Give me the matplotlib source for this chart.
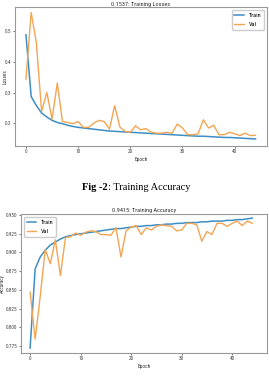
import numpy as np
import matplotlib.pyplot as plt

plt.rcParams['font.family'] = ['Liberation Sans Narrow', 'Roboto Condensed', 'DejaVu Sans']

# values
epochs = list(range(45))

train_loss = [0.489, 0.287, 0.257, 0.233, 0.220, 0.209, 0.202, 0.198, 0.193, 0.189,
              0.186, 0.184, 0.182, 0.180, 0.178, 0.176, 0.174, 0.173, 0.172, 0.171,
              0.170, 0.169, 0.168, 0.167, 0.166, 0.165, 0.164, 0.163, 0.162, 0.161,
              0.160, 0.159, 0.158, 0.157, 0.157, 0.156, 0.155, 0.154, 0.153, 0.153,
              0.152, 0.151, 0.150, 0.149, 0.148]
val_loss = [0.344, 0.562, 0.462, 0.238, 0.300, 0.213, 0.331, 0.205, 0.202, 0.198,
            0.205, 0.186, 0.186, 0.200, 0.209, 0.205, 0.180, 0.257, 0.187, 0.173,
            0.170, 0.191, 0.178, 0.182, 0.170, 0.167, 0.167, 0.170, 0.167, 0.197,
            0.184, 0.162, 0.162, 0.165, 0.211, 0.184, 0.193, 0.162, 0.162, 0.170,
            0.165, 0.159, 0.167, 0.159, 0.160]

train_acc = [0.772, 0.878, 0.894, 0.903, 0.910, 0.914, 0.918, 0.921, 0.9225, 0.924,
             0.925, 0.926, 0.927, 0.928, 0.929, 0.930, 0.931, 0.932, 0.932, 0.933,
             0.934, 0.935, 0.935, 0.936, 0.936, 0.937, 0.937, 0.938, 0.938, 0.939,
             0.939, 0.940, 0.940, 0.940, 0.941, 0.941, 0.942, 0.942, 0.942, 0.943,
             0.943, 0.944, 0.944, 0.945, 0.946]
val_acc = [0.847, 0.784, 0.841, 0.904, 0.885, 0.917, 0.869, 0.920, 0.921, 0.926,
           0.923, 0.927, 0.929, 0.928, 0.924, 0.924, 0.923, 0.933, 0.894, 0.929,
           0.934, 0.936, 0.924, 0.933, 0.930, 0.935, 0.937, 0.936, 0.935, 0.929,
           0.930, 0.939, 0.939, 0.937, 0.915, 0.928, 0.924, 0.939, 0.939, 0.935,
           0.939, 0.942, 0.936, 0.942, 0.939]

loss_yticks = [0.2, 0.3, 0.4, 0.5]
acc_yticks = [0.775, 0.800, 0.825, 0.850, 0.875, 0.900, 0.925, 0.950]
xticks = [0, 10, 20, 30, 40]

blue = '#3d8ec4'
orange = '#f4a553'

W, H = 269, 387
fig = plt.figure(figsize=(W / 100, H / 100), dpi=100)


def px_axes(left, top, right, bottom):
    return fig.add_axes([left / W, 1 - bottom / H, (right - left) / W, (bottom - top) / H])


def style(ax):
    for s in ax.spines.values():
        s.set_color('#999999')
        s.set_linewidth(0.8)
    ax.tick_params(labelsize=3.8, length=1.5, width=0.5, colors='#444444', pad=1)
    ax.set_xticks(xticks)


# Loss plot
ax1 = px_axes(15, 7, 267, 146)
ax1.plot(epochs, train_loss, color=blue, lw=1.1, label='Train')
ax1.plot(epochs, val_loss, color=orange, lw=1.0, label='Val')
ax1.set_xlim(-2.1, 46.2)
ax1.set_ylim(0.125, 0.58)
ax1.set_yticks(loss_yticks)
ax1.set_title('0.1537: Training Losses', fontsize=4.5, pad=0.5, color='#333333')
ax1.set_xlabel('Epoch', fontsize=4, labelpad=2, color='#333333')
ax1.set_ylabel('Losses', fontsize=3.8, color='#333333')
ax1.yaxis.set_label_coords(-0.030, 0.5)
style(ax1)
ax1.legend(loc='upper right', fontsize=4.5, handlelength=1.5, borderpad=0.4,
           labelspacing=0.6, framealpha=1, edgecolor='#cccccc')

# caption between the plots
fig.text(108 / W, 1 - 187 / H, 'Fig -2', ha='right', va='center',
         fontsize=7.5, fontweight='bold', family='Liberation Serif')
fig.text(108 / W, 1 - 187 / H, ': Training Accuracy', ha='left', va='center',
         fontsize=7.5, family='Liberation Serif')

# Accuracy plot
ax2 = px_axes(21, 214, 267, 353)
ax2.plot(epochs, train_acc, color=blue, lw=1.1, label='Train')
ax2.plot(epochs, val_acc, color=orange, lw=1.0, label='Val')
ax2.set_xlim(-1.8, 46.9)
ax2.set_ylim(0.7655, 0.9515)
ax2.set_yticks(acc_yticks)
ax2.set_yticklabels(['%.3f' % v for v in acc_yticks])
ax2.set_title('0.9415: Training Accuracy', fontsize=4.5, pad=1.5, color='#333333')
ax2.set_xlabel('Epoch', fontsize=4, labelpad=2, color='#333333')
ax2.set_ylabel('Accuracy', fontsize=3.6, color='#333333')
ax2.yaxis.set_label_coords(-0.064, 0.5)
style(ax2)
ax2.legend(loc='upper left', fontsize=4.5, handlelength=1.5, borderpad=0.4,
           labelspacing=0.6, framealpha=1, edgecolor='#cccccc')

fig.savefig('out.png', dpi=100)
